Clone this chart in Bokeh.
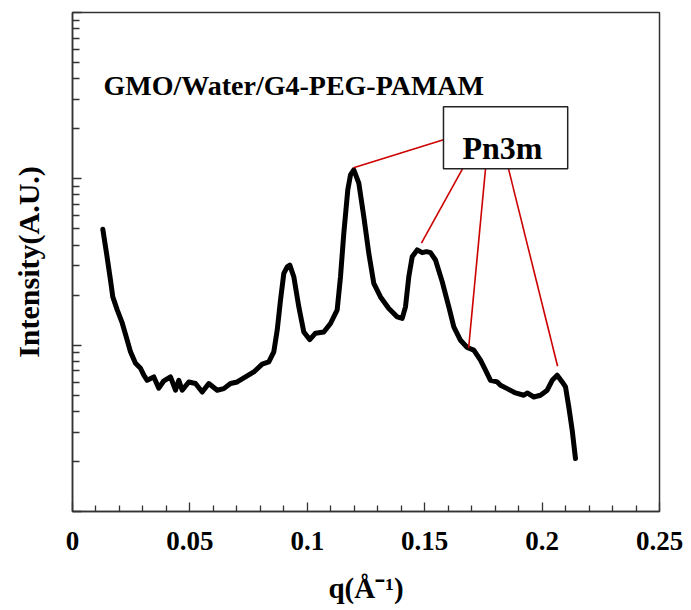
from bokeh.plotting import figure
from bokeh.models import Range1d, FixedTicker, CustomJSTickFormatter, Label
from bokeh.embed import file_html
from bokeh.resources import INLINE

# ---- data ----
q = [0.01290, 0.01448, 0.01618, 0.01716, 0.01904, 0.02117, 0.02330, 0.02470, 0.02683, 0.02896,
     0.03037, 0.03181, 0.03463, 0.03675, 0.03876, 0.04174, 0.04387, 0.04527, 0.04672, 0.04953,
     0.05239, 0.05524, 0.05805, 0.06163, 0.06444, 0.06729, 0.07015, 0.07368, 0.07722, 0.08079,
     0.08361, 0.08573, 0.08718, 0.08859, 0.09000, 0.09144, 0.09255, 0.09425, 0.09638, 0.09851,
     0.10106, 0.10349, 0.10703, 0.10988, 0.11273, 0.11414, 0.11555, 0.11725, 0.11840, 0.11981,
     0.12194, 0.12406, 0.12619, 0.12832, 0.13118, 0.13471, 0.13829, 0.14042, 0.14182, 0.14323,
     0.14468, 0.14681, 0.14894, 0.15077, 0.15247, 0.15460, 0.15745, 0.16027, 0.16240, 0.16525,
     0.16810, 0.17091, 0.17376, 0.17589, 0.17802, 0.18088, 0.18228, 0.18514, 0.18867, 0.19221,
     0.19365, 0.19647, 0.19932, 0.20217, 0.20430, 0.20643, 0.20856, 0.20997, 0.21137, 0.21282,
     0.21422]
intensity = [49.8, 35.8, 24.6, 19.5, 16.3, 13.6, 10.7, 9.12, 7.79, 7.27,
             6.60, 6.15, 6.44, 5.51, 6.07, 6.44, 5.36, 6.15, 5.36, 6.01,
             5.88, 5.23, 5.88, 5.36, 5.48, 5.88, 6.01, 6.44, 6.90, 7.69,
             7.93, 9.12, 12.3, 18.7, 27.0, 29.6, 30.3, 25.8, 17.0, 12.0,
             10.8, 11.8, 12.0, 13.5, 16.3, 25.8, 47.1, 85.9, 105.7, 113.3,
             94.2, 59.3, 35.7, 23.5, 19.5, 16.6, 14.8, 14.5, 17.0, 25.8,
             34.0, 37.4, 36.0, 36.5, 36.0, 32.5, 24.1, 17.0, 12.9, 10.7,
             9.68, 9.33, 8.12, 7.07, 6.15, 6.01, 5.74, 5.48, 5.16, 5.00,
             5.16, 4.88, 5.00, 5.36, 6.15, 6.60, 6.01, 5.61, 4.25, 3.08,
             2.08]

x_ticks = [0, 0.05, 0.1, 0.15, 0.2, 0.25]
x_minor = [0.01, 0.02, 0.03, 0.04, 0.06, 0.07, 0.08, 0.09, 0.11, 0.12, 0.13, 0.14,
           0.16, 0.17, 0.18, 0.19, 0.21, 0.22, 0.23, 0.24]
y_ticks = [1, 10, 100, 1000]
y_minor = [2, 3, 4, 5, 6, 7, 8, 9, 20, 30, 40, 50, 60, 70, 80, 90,
           200, 300, 400, 500, 600, 700, 800, 900]

title_text = "GMO/Water/G4-PEG-PAMAM"
phase_text = "Pn3m"
# annotation leader lines: from the Pn3m box to the peaks
lead_x0 = [0.1580, 0.1661, 0.1759, 0.1857]
lead_y0 = [171.8, 114.8, 114.8, 114.8]
lead_x1 = [0.1197, 0.1486, 0.1687, 0.2066]
lead_y1 = [116.5, 41.1, 9.59, 7.47]
box_left, box_right, box_bottom, box_top = 0.1580, 0.2109, 114.8, 271.5

FONT = "Liberation Serif"
AX = "#333333"

p = figure(width=691, height=610, output_backend="svg", toolbar_location=None,
           y_axis_type="log",
           x_range=Range1d(0, 0.25), y_range=Range1d(1, 1000),
           min_border_left=72, min_border_right=32, min_border_top=12, min_border_bottom=99)
p.background_fill_color = "white"
p.border_fill_color = "white"
p.outline_line_color = AX
p.outline_line_width = 1.5
p.xgrid.visible = False
p.ygrid.visible = False

xa = p.xaxis[0]
xa.ticker = FixedTicker(ticks=x_ticks, minor_ticks=x_minor)
xa.formatter = CustomJSTickFormatter(code="return tick.toFixed(2).replace(/0+$/, '').replace(/\\.$/, '');")
xa.major_tick_in = 9
xa.major_tick_out = 0
xa.minor_tick_in = 6
xa.minor_tick_out = 0
xa.axis_line_color = AX
xa.axis_line_width = 1.5
xa.major_tick_line_color = AX
xa.minor_tick_line_color = AX
xa.major_tick_line_width = 1.3
xa.minor_tick_line_width = 1.3
xa.major_label_text_font = FONT
xa.major_label_text_font_style = "bold"
xa.major_label_text_font_size = "27px"
xa.major_label_text_color = "black"
xa.major_label_standoff = 20
xa.axis_label = "q(\u00c5\u207b\u00b9)"
xa.axis_label_text_font = FONT
xa.axis_label_text_font_style = "bold"
xa.axis_label_text_font_size = "29px"
xa.axis_label_text_color = "black"
xa.axis_label_standoff = 19

ya = p.yaxis[0]
ya.ticker = FixedTicker(ticks=y_ticks, minor_ticks=y_minor)
ya.formatter = CustomJSTickFormatter(code="return '';")
ya.major_label_text_font_size = "0px"
ya.major_label_standoff = 0
ya.major_tick_in = 9
ya.major_tick_out = 0
ya.minor_tick_in = 7
ya.minor_tick_out = 0
ya.axis_line_color = AX
ya.axis_line_width = 1.5
ya.major_tick_line_color = AX
ya.minor_tick_line_color = AX
ya.major_tick_line_width = 1.3
ya.minor_tick_line_width = 1.3
ya.axis_label = "Intensity(A.U.)"
ya.axis_label_text_font = FONT
ya.axis_label_text_font_style = "bold"
ya.axis_label_text_font_size = "30px"
ya.axis_label_text_color = "black"
ya.axis_label_standoff = 28

# curve
p.line(q, intensity, line_color="black", line_width=5, line_join="round", line_cap="round")

# leader lines and Pn3m box
p.segment(lead_x0, lead_y0, lead_x1, lead_y1, line_color="#cc0000", line_width=1.6)
p.quad(left=[box_left], right=[box_right], bottom=[box_bottom], top=[box_top],
       fill_color="white", line_color="#222222", line_width=1.5)

p.add_layout(Label(x=0.1831, y=153.8, text=phase_text, text_align="center",
                   text_baseline="alphabetic", text_font=FONT, text_font_style="bold",
                   text_font_size="32px", text_color="black"))
p.add_layout(Label(x=0.0132, y=363.0, text=title_text, text_align="left",
                   text_baseline="alphabetic", text_font=FONT, text_font_style="bold",
                   text_font_size="28px", text_color="black"))

open("out.html", "w").write(file_html(p, INLINE))
